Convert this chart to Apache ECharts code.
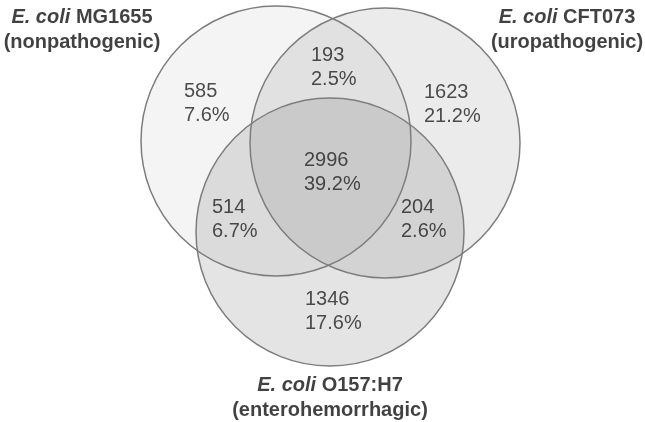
<!DOCTYPE html>
<html>
<head>
<meta charset="utf-8">
<script src="https://cdn.jsdelivr.net/npm/echarts@6/dist/echarts.min.js"></script>
<style>
  html, body { margin: 0; padding: 0; background: #fff; }
  #chart { width: 645px; height: 422px; }
</style>
</head>
<body>
<div id="chart"></div>
<script>
// set names (E. coli strains)
const setStrains = ['MG1655', 'CFT073', 'O157:H7']
const setTypes = ['(nonpathogenic)', '(uropathogenic)', '(enterohemorrhagic)']

// venn regions: counts and share of total genes
const regionNames = ['MG1655 only', 'MG1655 & CFT073', 'CFT073 only', 'all three', 'MG1655 & O157:H7', 'CFT073 & O157:H7', 'O157:H7 only']
const regionCounts = [585, 193, 1623, 2996, 514, 204, 1346]
const regionPercents = ['7.6%', '2.5%', '21.2%', '39.2%', '6.7%', '2.6%', '17.6%']

// layout (page pixels): circles, label anchors
const circleLayout = [[276, 141, 135], [385, 143, 135], [330, 232, 134]]
const circleFills = ['rgba(0,0,0,0.045)', 'rgba(0,0,0,0.08)', 'rgba(0,0,0,0.105)']
const regionPos = [[184, 103], [311, 67], [424, 104], [304, 172], [212, 219], [401, 219], [305, 311]]
const setNamePos = [[82, 30], [567, 30], [330, 398]]

const FONT = 'Arial, "Liberation Sans", sans-serif'

const chart = echarts.init(document.getElementById('chart'))

const circleData = circleLayout.map((c, i) => ({ value: c, fill: circleFills[i] }))

const option = {
  animation: false,
  grid: { left: 0, right: 0, top: 0, bottom: 0 },
  xAxis: { type: 'value', min: 0, max: 645, show: false },
  yAxis: { type: 'value', min: 0, max: 422, inverse: true, show: false },
  series: [
    // circle fills
    {
      type: 'custom',
      data: circleData,
      silent: true,
      renderItem: function (params, api) {
        const c = api.coord([api.value(0), api.value(1)])
        const r = api.size([api.value(2), 0])[0]
        return {
          type: 'circle',
          shape: { cx: c[0], cy: c[1], r: r },
          style: { fill: circleFills[params.dataIndex], stroke: null }
        }
      }
    },
    // circle outlines on top
    {
      type: 'custom',
      data: circleData,
      silent: true,
      renderItem: function (params, api) {
        const c = api.coord([api.value(0), api.value(1)])
        const r = api.size([api.value(2), 0])[0]
        return {
          type: 'circle',
          shape: { cx: c[0], cy: c[1], r: r },
          style: { fill: 'none', stroke: '#7d7d7d', lineWidth: 1.5 }
        }
      }
    },
    // region numbers
    {
      type: 'scatter',
      symbolSize: 0,
      silent: true,
      data: regionPos.map((p, i) => ({ name: regionNames[i], value: p })),
      label: {
        show: true,
        position: [0, 0],
        align: 'left',
        verticalAlign: 'middle',
        fontFamily: FONT,
        fontSize: 20,
        lineHeight: 24,
        color: '#222',
        formatter: function (p) {
          return regionCounts[p.dataIndex] + '\n' + regionPercents[p.dataIndex]
        }
      }
    },
    // set names
    {
      type: 'scatter',
      symbolSize: 0,
      silent: true,
      data: setNamePos.map((p, i) => ({ name: setStrains[i], value: p })),
      label: {
        show: true,
        position: [0, 0],
        align: 'center',
        verticalAlign: 'middle',
        fontFamily: FONT,
        fontSize: 20,
        fontWeight: 'bold',
        lineHeight: 25,
        color: '#111',
        formatter: function (p) {
          return '{i|E. coli} {b|' + setStrains[p.dataIndex] + '}\n{b|' + setTypes[p.dataIndex] + '}'
        },
        rich: {
          i: { fontFamily: FONT, fontSize: 20, fontWeight: 'bold', fontStyle: 'italic', color: '#111', lineHeight: 25 },
          b: { fontFamily: FONT, fontSize: 20, fontWeight: 'bold', color: '#111', lineHeight: 25 }
        }
      }
    }
  ]
}

chart.setOption(option)
</script>
</body>
</html>
